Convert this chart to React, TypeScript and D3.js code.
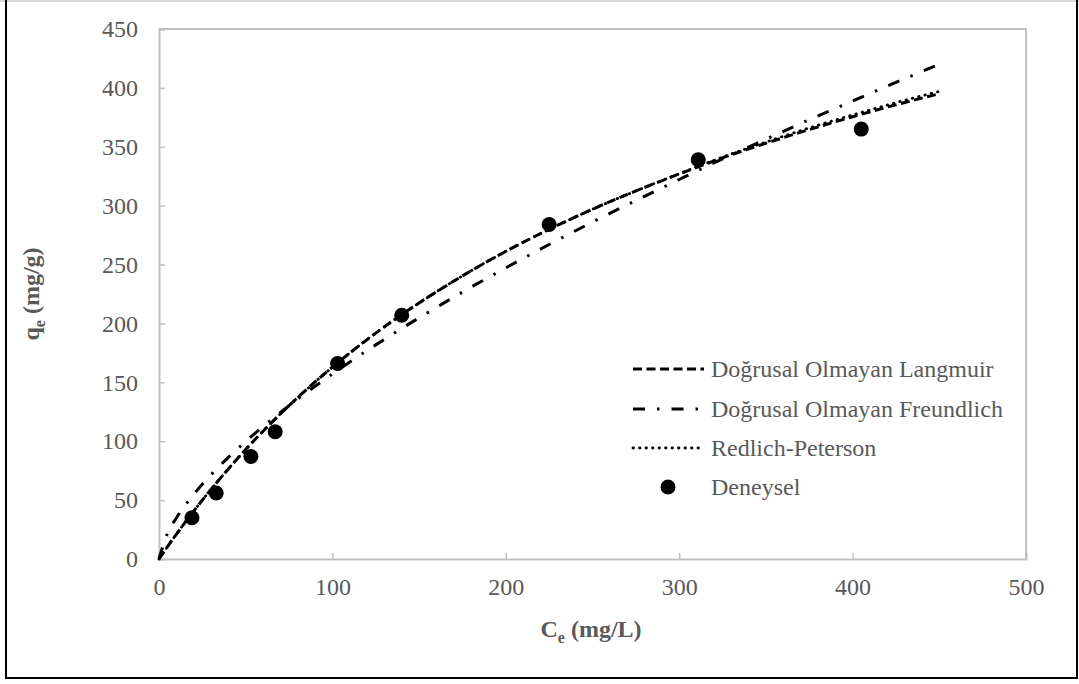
import React, { useEffect, useRef } from "react";
import * as d3 from "d3";

// experimental points (Deneysel)
const expCe = [19, 33, 53, 67, 103, 140, 225, 311, 405];
const expQe = [35, 56, 87, 108, 166, 207, 284, 339, 365];

// model curves
const curveCe = [0, 5, 10, 20, 30, 40, 50, 60, 80, 100, 125, 150, 175, 200, 225, 250, 275, 300, 325, 350, 375, 400, 425, 450];
const langmuirQe = [0, 10.7, 21, 40.6, 59.1, 76.5, 93, 108.5, 137.1, 162.9, 191.8, 217.4, 240.4, 261.2, 279.9, 297, 312.5, 326.9, 340.6, 353, 364.6, 375.5, 385.7, 395];
const freundlichQe = [0, 22.1, 34.8, 54.8, 71.5, 86.3, 99.8, 112.5, 135.8, 157.1, 181.8, 204.8, 226.6, 247.2, 267, 286.1, 304.4, 322.2, 339.7, 356.4, 372.9, 388.8, 404.7, 420];
const redlichQe = [0, 10.7, 21, 40.6, 59.1, 76.5, 93, 108.5, 137.1, 162.9, 191.8, 217.4, 240.4, 261.2, 279.9, 297, 312.5, 327.1, 341.2, 354, 366, 377, 387.5, 397];

const xTicks = [0, 100, 200, 300, 400, 500];
const yTicks = [0, 50, 100, 150, 200, 250, 300, 350, 400, 450];

const legendLabels = [
  "Doğrusal Olmayan Langmuir",
  "Doğrusal Olmayan Freundlich",
  "Redlich-Peterson",
  "Deneysel",
];

const W = 1079;
const H = 684;
const margin = { left: 159, right: 53, top: 29, bottom: 125 };
const textColor = "#595959";
const axisColor = "#bfbfbf";
const font = "'Liberation Serif', 'Times New Roman', serif";

const styles = [
  { dash: "9 4.5", width: 3, cap: "butt" },
  { dash: "12 12 2.5 12", width: 3, cap: "butt" },
  { dash: "0.5 6", width: 2.8, cap: "round" },
];

export default function App() {
  const ref = useRef<SVGSVGElement>(null);

  useEffect(() => {
    const svg = d3.select(ref.current!);
    svg.selectAll("*").remove();

    const x = d3.scaleLinear().domain([0, 500]).range([margin.left, W - margin.right]);
    const y = d3.scaleLinear().domain([0, 450]).range([H - margin.bottom, margin.top]);

    // outer frame
    svg.append("line").attr("x1", 0).attr("x2", W).attr("y1", 1).attr("y2", 1)
      .attr("stroke", "#d9d9d9").attr("stroke-width", 2);
    svg.append("line").attr("x1", 6).attr("x2", 6).attr("y1", 0).attr("y2", 679)
      .attr("stroke", "#000").attr("stroke-width", 2);
    svg.append("line").attr("x1", 5).attr("x2", 1078).attr("y1", 678).attr("y2", 678)
      .attr("stroke", "#000").attr("stroke-width", 2);
    svg.append("line").attr("x1", 1077).attr("x2", 1077).attr("y1", 0).attr("y2", 679)
      .attr("stroke", "#000").attr("stroke-width", 2);

    // plot area border (top / right)
    svg.append("path")
      .attr("d", `M${x(0)},${y(450)}H${x(500)}V${y(0)}`)
      .attr("fill", "none").attr("stroke", axisColor).attr("stroke-width", 2);

    // x axis
    const gx = svg.append("g")
      .attr("transform", `translate(0,${y(0)})`)
      .call(d3.axisBottom(x).tickValues(xTicks).tickSize(-6).tickPadding(19).tickFormat(d3.format("d")));
    gx.select(".domain").attr("stroke", axisColor).attr("stroke-width", 2);
    gx.selectAll(".tick line").attr("stroke", axisColor).attr("stroke-width", 1.5);
    gx.selectAll(".tick text").attr("fill", textColor).attr("font-size", 24).attr("font-family", font);

    // y axis
    const gy = svg.append("g")
      .attr("transform", `translate(${x(0)},0)`)
      .call(d3.axisLeft(y).tickValues(yTicks).tickSize(-6).tickPadding(21).tickFormat(d3.format("d")));
    gy.select(".domain").attr("stroke", axisColor).attr("stroke-width", 2);
    gy.selectAll(".tick line").attr("stroke", axisColor).attr("stroke-width", 1.5);
    gy.selectAll(".tick text").attr("fill", textColor).attr("font-size", 24).attr("font-family", font);

    // axis titles
    const xt = svg.append("text")
      .attr("x", 591).attr("y", 637)
      .attr("text-anchor", "middle")
      .attr("font-family", font).attr("font-weight", "bold").attr("font-size", 24)
      .attr("fill", textColor);
    xt.append("tspan").text("C");
    xt.append("tspan").attr("font-size", 16).attr("dy", 6).text("e");
    xt.append("tspan").attr("dy", -6).text(" (mg/L)");

    const yt = svg.append("text")
      .attr("transform", `translate(39,294) rotate(-90)`)
      .attr("text-anchor", "middle")
      .attr("font-family", font).attr("font-weight", "bold").attr("font-size", 24)
      .attr("fill", textColor);
    yt.append("tspan").text("q");
    yt.append("tspan").attr("font-size", 16).attr("dy", 6).text("e");
    yt.append("tspan").attr("dy", -6).text(" (mg/g)");

    // curves
    const series = [langmuirQe, freundlichQe, redlichQe];
    const line = d3.line<number>()
      .x((_, i) => x(curveCe[i]))
      .y((d) => y(d))
      .curve(d3.curveMonotoneX);
    series.forEach((s, k) => {
      svg.append("path")
        .attr("d", line(s)!)
        .attr("fill", "none")
        .attr("stroke", "#000")
        .attr("stroke-width", styles[k].width)
        .attr("stroke-dasharray", styles[k].dash)
        .attr("stroke-linecap", styles[k].cap);
    });

    // experimental points
    svg.append("g").selectAll("circle")
      .data(expCe)
      .join("circle")
      .attr("cx", (d) => x(d))
      .attr("cy", (_, i) => y(expQe[i]))
      .attr("r", 7.5)
      .attr("fill", "#000");

    // legend
    const legendY = [369, 409, 448, 487];
    const lg = svg.append("g");
    legendLabels.forEach((lab, i) => {
      if (i < 3) {
        lg.append("line")
          .attr("x1", 633).attr("x2", 704)
          .attr("y1", legendY[i]).attr("y2", legendY[i])
          .attr("stroke", "#000")
          .attr("stroke-width", styles[i].width)
          .attr("stroke-dasharray", styles[i].dash)
          .attr("stroke-linecap", styles[i].cap);
      } else {
        lg.append("circle").attr("cx", 668).attr("cy", legendY[i]).attr("r", 7.5).attr("fill", "#000");
      }
      lg.append("text")
        .attr("x", 711).attr("y", legendY[i])
        .attr("dy", "0.35em")
        .attr("font-family", font).attr("font-size", 24)
        .attr("fill", textColor)
        .text(lab);
    });
  }, []);

  return (
    <svg
      ref={ref}
      width={W}
      height={H}
      style={{ position: "absolute", left: 0, top: 0, background: "#fff" }}
    />
  );
}
